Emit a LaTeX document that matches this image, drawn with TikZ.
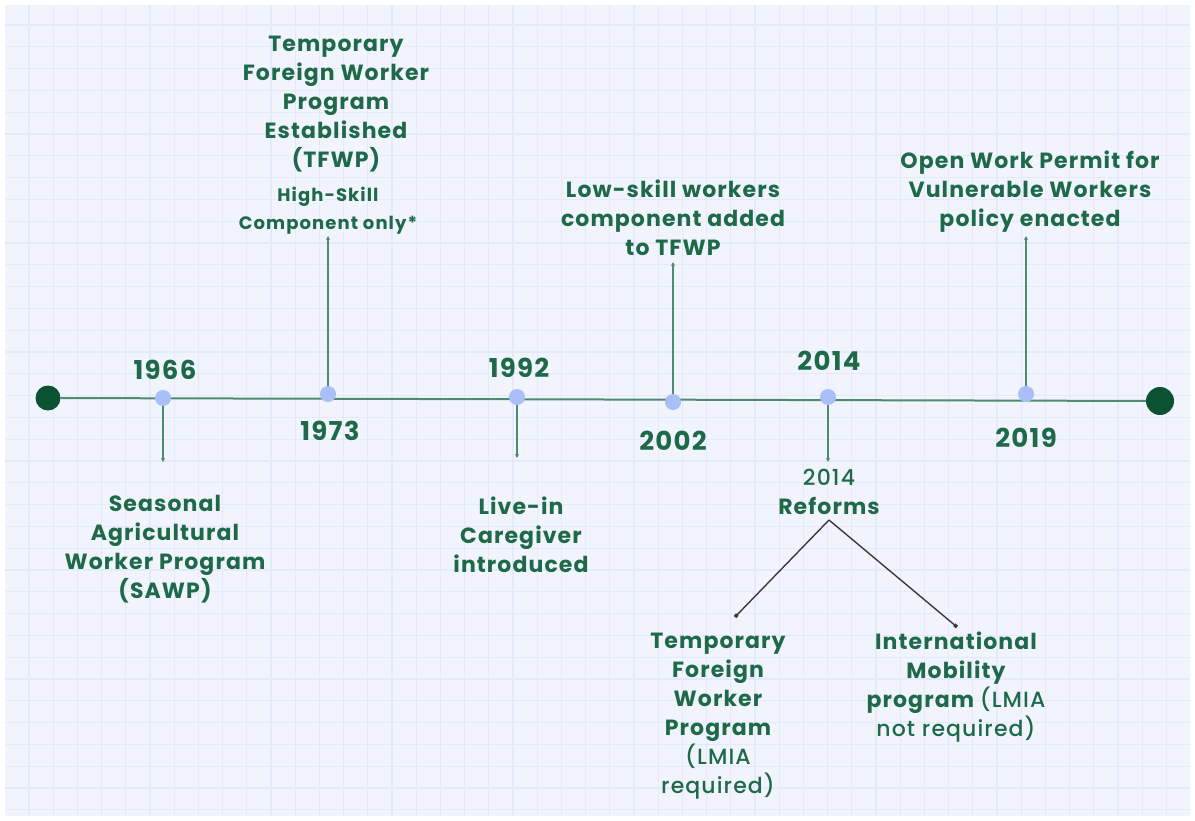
\documentclass[tikz,border=0pt]{standalone}
\usepackage{fontspec}
\setmainfont{Poppins}
\newfontfamily\medfont{Poppins}[UprightFont={* Medium}]
\newcommand\medtext[1]{{\medfont\mdseries\addfontfeature{LetterSpace=5}#1}}
\usetikzlibrary{arrows.meta}
\definecolor{paper}{HTML}{F2F4FD}
\definecolor{gridc}{HTML}{E4EAFB}
\definecolor{txt}{HTML}{1E6A48}
\definecolor{axis}{HTML}{4F8B6F}
\definecolor{dot}{HTML}{A9BFF8}
\definecolor{endc}{HTML}{0A5232}
\definecolor{branch}{HTML}{3A3A3A}

\begin{document}
\begin{tikzpicture}[x=1pt,y=-1pt,
  lbl/.style={text=txt,font=\bfseries\fontsize{22}{29}\selectfont\addfontfeature{LetterSpace=5},align=center,inner sep=0pt},
  small/.style={text=txt,font=\bfseries\fontsize{18}{28}\selectfont\addfontfeature{LetterSpace=6},align=center,inner sep=0pt},
  yr/.style={text=txt,font=\bfseries\fontsize{26}{28}\selectfont\addfontfeature{LetterSpace=5},inner sep=0pt},
  ev/.style={circle,fill=dot,minimum size=16pt,inner sep=0pt},
  endpt/.style={circle,fill=endc,inner sep=0pt},
  axisline/.style={draw=axis,line width=2pt},
  stem/.style={draw=axis,line width=1.5pt,-{Stealth[length=4pt,width=4pt]}},
  fork/.style={draw=branch,line width=1.4pt,-{Square[length=3.5pt,width=3.5pt]}}]

% page and squared paper
\fill[white] (0,0) rectangle (1195,821);
\fill[paper] (5,5) rectangle (1190,816);
\begin{scope}
  \clip (5,5) rectangle (1190,816);
  \foreach \i in {0,...,48} {\draw[gridc,line width=1.2pt] (29+24.2*\i,5) -- (29+24.2*\i,816);}
  \foreach \j in {0,...,37} {\draw[gridc,line width=1.2pt] (5,25+21.8*\j) -- (1190,25+21.8*\j);}
\end{scope}

% timeline axis with end caps
\node[endpt,minimum size=25pt] (start) at (48,398) {};
\node[endpt,minimum size=28pt] (stop) at (1160,401) {};
\draw[axisline] (start) -- (stop);

% events on the axis
\node[ev] (e1966) at (163,398) {};
\node[ev] (e1973) at (328,394) {};
\node[ev] (e1992) at (517,397) {};
\node[ev] (e2002) at (673,402) {};
\node[ev] (e2014) at (828,397) {};
\node[ev] (e2019) at (1026,394) {};

% years
\node[yr] (y1966) at (165,370) {1966};
\node[yr] (y1973) at (330,431) {1973};
\node[yr] (y1992) at (519,368) {1992};
\node[yr] (y2002) at (673,441) {2002};
\node[yr] (y2014) at (829,361) {2014};
\node[yr] (y2019) at (1026,438) {2019};

% stem ends
\coordinate (s1966) at (163,462);
\coordinate (s1973) at (328,236);
\coordinate (s1992) at (517,458);
\coordinate (s2002) at (673,262);
\coordinate (s2014) at (828,462);
\coordinate (s2019) at (1026,236);

\draw[stem] (e1966) -- (s1966);
\draw[stem] (e1973) -- (s1973);
\draw[stem] (e1992) -- (s1992);
\draw[stem] (e2002) -- (s2002);
\draw[stem] (e2014) -- (s2014);
\draw[stem] (e2019) -- (s2019);

% event descriptions
\node[lbl] (t1966) at (165,549) {Seasonal\\Agricultural\\Worker Program\\(SAWP)};
\node[lbl] (t1973) at (336,104) {Temporary\\Foreign Worker\\Program\\Established\\(TFWP)};
\node[small] (n1973) at (328,211) {High-Skill\\Component only*};
\node[lbl] (t1992) at (521,535) {Live-in\\Caregiver\\introduced};
\node[lbl] (t2002) at (673,218) {Low-skill workers\\component added\\to TFWP};
\node[lbl] (t2014) at (829,492) {\medtext{2014}\\Reforms};
\node[lbl] (t2019) at (1030,192) {Open Work Permit for\\Vulnerable Workers\\policy enacted};

% 2014 reforms split into two streams
\coordinate (split) at (829,520);
\coordinate (leftend) at (735,617);
\coordinate (rightend) at (957,627);
\draw[fork] (split) -- (leftend);
\draw[fork] (split) -- (rightend);

\node[lbl] (tfwp) at (718,716) {Temporary\\Foreign\\Worker\\Program\\\medtext{(LMIA}\\\medtext{required)}};
\node[lbl] (imp) at (956,687) {International\\Mobility\\program \medtext{(LMIA}\\\medtext{not required)}};
\end{tikzpicture}
\end{document}
